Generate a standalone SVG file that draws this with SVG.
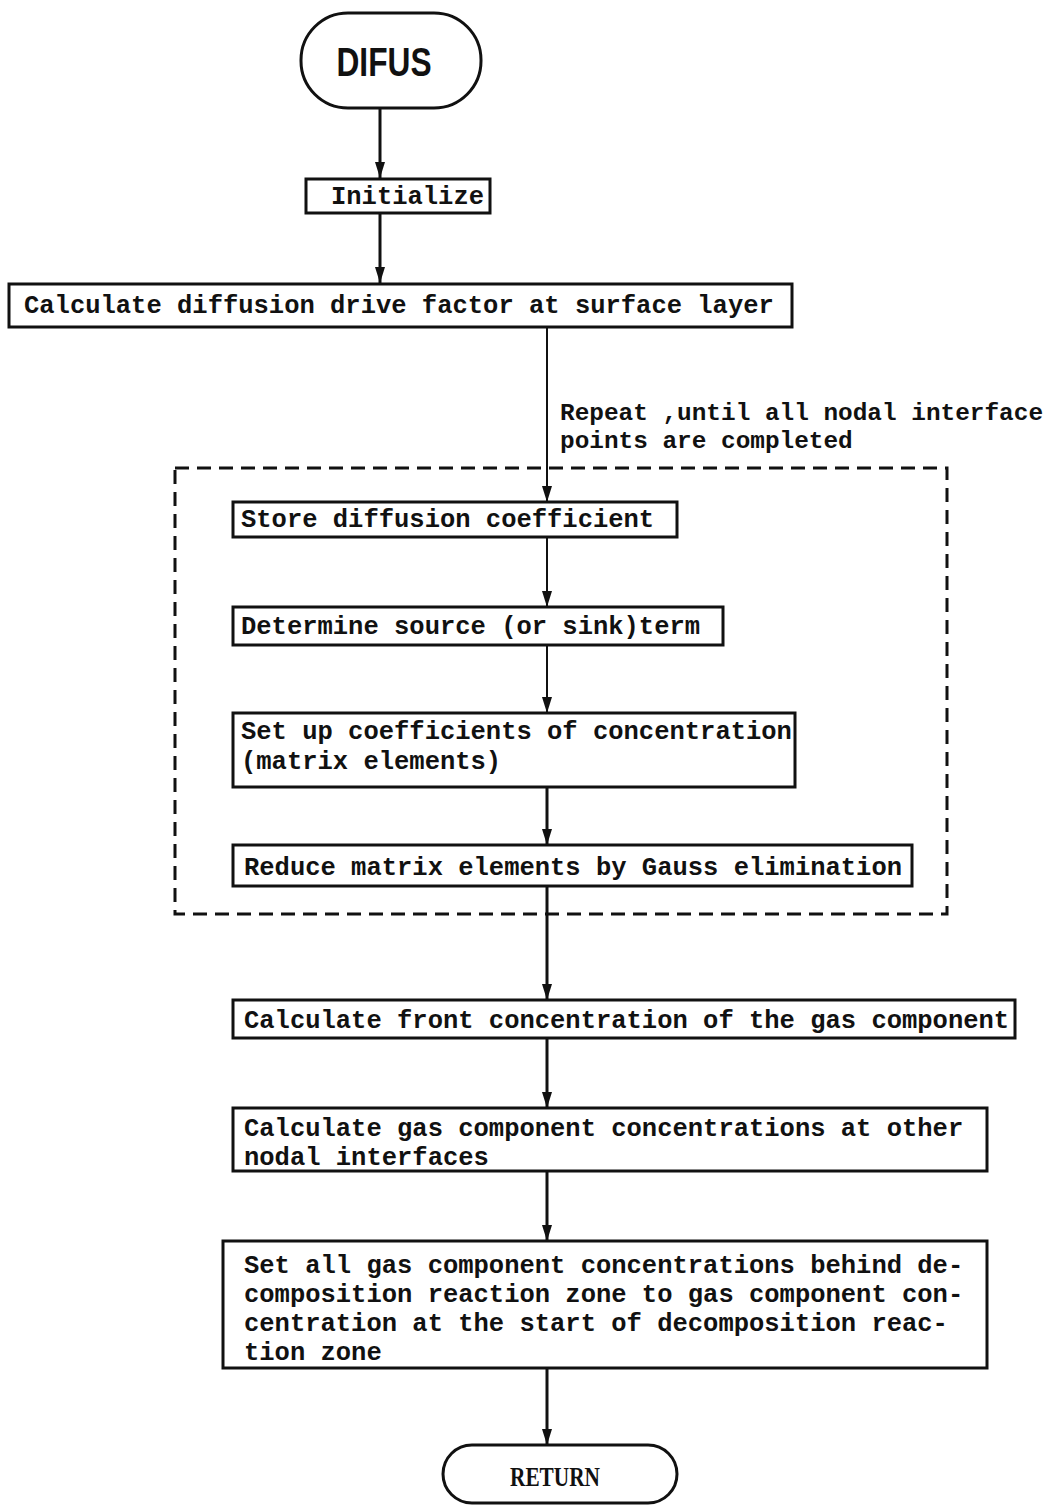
<svg xmlns="http://www.w3.org/2000/svg" width="1058" height="1506" viewBox="0 0 1058 1506">
<defs>
<marker id="ah" viewBox="0 0 16 12" refX="16" refY="6" markerWidth="16" markerHeight="12" markerUnits="userSpaceOnUse" orient="auto">
<path d="M0,1 L16,6 L0,11 Z" fill="#111"/>
</marker>
<style>
.box{fill:#fff;stroke:#111;stroke-width:3}
.t{font-family:"Liberation Mono","DejaVu Sans Mono",monospace;font-size:25.5px;font-weight:bold;fill:#111}
.s{font-size:24.4px}
.ln{stroke:#111;stroke-width:3;fill:none}
.thin{stroke:#111;stroke-width:2;fill:none}
</style>
</defs>
<rect width="1058" height="1506" fill="#fff"/>
<g id="connectors">
<line class="ln" x1="380" y1="108" x2="380" y2="178" marker-end="url(#ah)"/>
<line class="ln" x1="380" y1="213" x2="380" y2="283" marker-end="url(#ah)"/>
<line class="thin" x1="547" y1="327" x2="547" y2="502" marker-end="url(#ah)"/>
<line class="thin" x1="547" y1="537" x2="547" y2="607" marker-end="url(#ah)"/>
<line class="thin" x1="547" y1="645" x2="547" y2="713" marker-end="url(#ah)"/>
<line class="ln" x1="547" y1="787" x2="547" y2="845" marker-end="url(#ah)"/>
<line class="ln" x1="547" y1="886" x2="547" y2="1000" marker-end="url(#ah)"/>
<line class="ln" x1="547" y1="1038" x2="547" y2="1108" marker-end="url(#ah)"/>
<line class="ln" x1="547" y1="1171" x2="547" y2="1241" marker-end="url(#ah)"/>
<line class="ln" x1="547" y1="1368" x2="547" y2="1445" marker-end="url(#ah)"/>
</g>
<g id="loop">
<rect x="175" y="468" width="772" height="446" fill="none" stroke="#111" stroke-width="3" stroke-dasharray="14 8"/>
<text class="t s" x="560" y="420">Repeat ,until all nodal interface</text>
<text class="t s" x="560" y="448">points are completed</text>
</g>
<g id="difus">
<rect class="box" x="301" y="13" width="180" height="95" rx="47" ry="47"/>
<text x="384" y="76" text-anchor="middle" font-family="Liberation Sans, Arial, sans-serif" font-size="40" font-weight="bold" fill="#111" textLength="95" lengthAdjust="spacingAndGlyphs">DIFUS</text>
</g>
<g id="initialize">
<rect class="box" x="306" y="179" width="184" height="34"/>
<text class="t" x="331" y="204">Initialize</text>
</g>
<g id="calcdrive">
<rect class="box" x="9" y="284" width="783" height="43"/>
<text class="t" x="24" y="313">Calculate diffusion drive factor at surface layer</text>
</g>
<g id="store">
<rect class="box" x="233" y="502" width="444" height="35"/>
<text class="t" x="241" y="527">Store diffusion coefficient</text>
</g>
<g id="determine">
<rect class="box" x="233" y="607" width="490" height="38"/>
<text class="t" x="241" y="634">Determine source (or sink)term</text>
</g>
<g id="setup">
<rect class="box" x="233" y="713" width="562" height="74"/>
<text class="t" x="241" y="739">Set up coefficients of concentration</text>
<text class="t" x="241" y="769">(matrix elements)</text>
</g>
<g id="reduce">
<rect class="box" x="233" y="845" width="679" height="41"/>
<text class="t" x="244" y="875">Reduce matrix elements by Gauss elimination</text>
</g>
<g id="front">
<rect class="box" x="233" y="1000" width="782" height="38"/>
<text class="t" x="244" y="1028">Calculate front concentration of the gas component</text>
</g>
<g id="other">
<rect class="box" x="233" y="1108" width="754" height="63"/>
<text class="t" x="244" y="1136">Calculate gas component concentrations at other</text>
<text class="t" x="244" y="1165">nodal interfaces</text>
</g>
<g id="setall">
<rect class="box" x="223" y="1241" width="764" height="127"/>
<text class="t" x="244" y="1273">Set all gas component concentrations behind de-</text>
<text class="t" x="244" y="1302">composition reaction zone to gas component con-</text>
<text class="t" x="244" y="1331">centration at the start of decomposition reac-</text>
<text class="t" x="244" y="1360">tion zone</text>
</g>
<g id="return">
<rect class="box" x="443" y="1445" width="234" height="58" rx="29" ry="29"/>
<text x="555" y="1486" text-anchor="middle" font-family="Liberation Serif, serif" font-size="27" font-weight="bold" fill="#111" textLength="90" lengthAdjust="spacingAndGlyphs">RETURN</text>
</g>
</svg>
